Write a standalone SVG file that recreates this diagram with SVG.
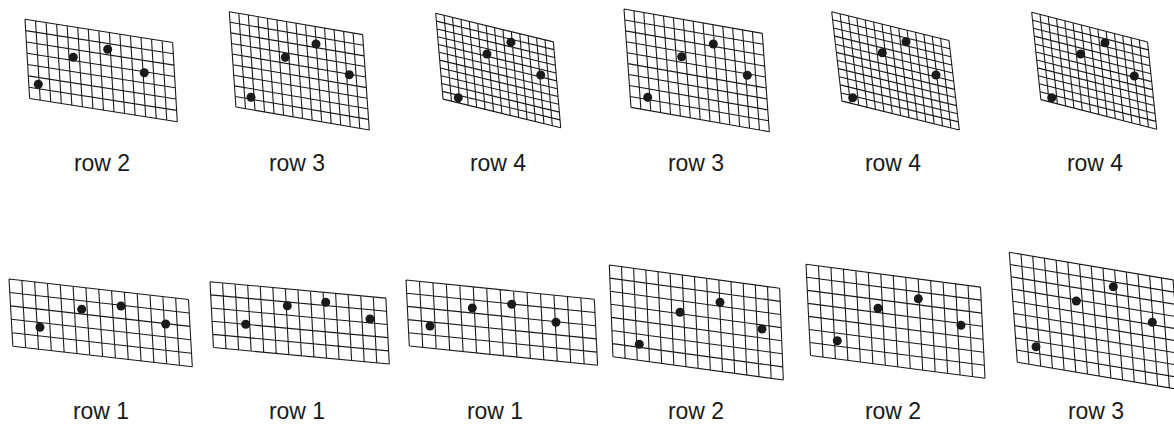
<svg xmlns="http://www.w3.org/2000/svg" xmlns:xlink="http://www.w3.org/1999/xlink" width="1174" height="440" viewBox="0 0 1174 440">
<style>
.grid{fill:none;stroke:#1a1a1a;stroke-width:1.1;vector-effect:non-scaling-stroke}
.dot{fill:#1a1a1a}
.lbl{font-family:"Liberation Sans",Arial,Helvetica,sans-serif;font-size:23px;fill:#1a1a1a;text-anchor:middle}
</style>
<defs>
<path id="g5" class="grid" d="M0 0V5M1 0V5M2 0V5M3 0V5M4 0V5M5 0V5M6 0V5M7 0V5M8 0V5M9 0V5M10 0V5M11 0V5M12 0V5M13 0V5M14 0V5M0 0H14M0 1H14M0 2H14M0 3H14M0 4H14M0 5H14"/>
<path id="g7" class="grid" d="M0 0V7M1 0V7M2 0V7M3 0V7M4 0V7M5 0V7M6 0V7M7 0V7M8 0V7M9 0V7M10 0V7M11 0V7M12 0V7M13 0V7M14 0V7M0 0H14M0 1H14M0 2H14M0 3H14M0 4H14M0 5H14M0 6H14M0 7H14"/>
<path id="g9" class="grid" d="M0 0V9M1 0V9M2 0V9M3 0V9M4 0V9M5 0V9M6 0V9M7 0V9M8 0V9M9 0V9M10 0V9M11 0V9M12 0V9M13 0V9M14 0V9M0 0H14M0 1H14M0 2H14M0 3H14M0 4H14M0 5H14M0 6H14M0 7H14M0 8H14M0 9H14"/>
<path id="g11" class="grid" d="M0 0V11M1 0V11M2 0V11M3 0V11M4 0V11M5 0V11M6 0V11M7 0V11M8 0V11M9 0V11M10 0V11M11 0V11M12 0V11M13 0V11M14 0V11M0 0H14M0 1H14M0 2H14M0 3H14M0 4H14M0 5H14M0 6H14M0 7H14M0 8H14M0 9H14M0 10H14M0 11H14"/>
</defs>
<rect width="1174" height="440" fill="#fff"/>

<g id="top1">
<use href="#g7" xlink:href="#g7" transform="matrix(10.546 1.657 0.664 11.314 25 19.3)"/>
<circle class="dot" cx="38.3" cy="84.3" r="4.5"/><circle class="dot" cx="73.3" cy="57.3" r="4.5"/><circle class="dot" cx="107.7" cy="49.3" r="4.5"/><circle class="dot" cx="144.3" cy="72.7" r="4.5"/>
<text class="lbl" x="102" y="171">row 2</text>
</g>
<g id="top2">
<use href="#g9" xlink:href="#g9" transform="matrix(9.525 1.639 0.739 10.594 229.3 11.7)"/>
<circle class="dot" cx="251" cy="97.3" r="4.5"/><circle class="dot" cx="285.3" cy="57.3" r="4.5"/><circle class="dot" cx="316" cy="44" r="4.5"/><circle class="dot" cx="349.3" cy="74.7" r="4.5"/>
<text class="lbl" x="297" y="171">row 3</text>
</g>
<g id="top3">
<use href="#g11" xlink:href="#g11" transform="matrix(8.404 2.039 0.668 7.805 435.7 13.3)"/>
<circle class="dot" cx="458.3" cy="97.7" r="4.5"/><circle class="dot" cx="487" cy="54" r="4.5"/><circle class="dot" cx="511" cy="42.3" r="4.5"/><circle class="dot" cx="540.7" cy="75" r="4.5"/>
<text class="lbl" x="498" y="171">row 4</text>
</g>
<g id="top4">
<use href="#g9" xlink:href="#g9" transform="matrix(9.879 1.739 0.778 10.928 624 9)"/>
<circle class="dot" cx="647.7" cy="97.3" r="4.5"/><circle class="dot" cx="681.7" cy="56.7" r="4.5"/><circle class="dot" cx="713.3" cy="44" r="4.5"/><circle class="dot" cx="747.3" cy="75.3" r="4.5"/>
<text class="lbl" x="696" y="171">row 3</text>
</g>
<g id="top5">
<use href="#g11" xlink:href="#g11" transform="matrix(8.379 2.061 0.936 8.132 831.7 11.7)"/>
<circle class="dot" cx="852.7" cy="97.7" r="4.5"/><circle class="dot" cx="882.3" cy="52.7" r="4.5"/><circle class="dot" cx="906" cy="41.7" r="4.5"/><circle class="dot" cx="936" cy="75" r="4.5"/>
<text class="lbl" x="893" y="171">row 4</text>
</g>
<g id="top6">
<use href="#g11" xlink:href="#g11" transform="matrix(8.275 2.118 0.832 7.941 1031.7 12.3)"/>
<circle class="dot" cx="1051.7" cy="97.7" r="4.5"/><circle class="dot" cx="1080.7" cy="54" r="4.5"/><circle class="dot" cx="1105" cy="42.7" r="4.5"/><circle class="dot" cx="1134.3" cy="76" r="4.5"/>
<text class="lbl" x="1095" y="171">row 4</text>
</g>

<g id="bot1">
<use href="#g5" xlink:href="#g5" transform="matrix(12.818 1.464 0.77 13.44 9 279)"/>
<circle class="dot" cx="40" cy="327.3" r="4.5"/><circle class="dot" cx="81.7" cy="309.3" r="4.5"/><circle class="dot" cx="121" cy="306" r="4.5"/><circle class="dot" cx="165.7" cy="324" r="4.5"/>
<text class="lbl" x="101" y="419">row 1</text>
</g>
<g id="bot2">
<use href="#g5" xlink:href="#g5" transform="matrix(12.561 1.175 0.69 13.17 210 281.7)"/>
<circle class="dot" cx="245.7" cy="324.3" r="4.5"/><circle class="dot" cx="287.3" cy="305.7" r="4.5"/><circle class="dot" cx="325.7" cy="302.3" r="4.5"/><circle class="dot" cx="370" cy="319" r="4.5"/>
<text class="lbl" x="297" y="419">row 1</text>
</g>
<g id="bot3">
<use href="#g5" xlink:href="#g5" transform="matrix(13.45 1.379 0.66 13.2 406 280)"/>
<circle class="dot" cx="430" cy="326" r="4.5"/><circle class="dot" cx="472.3" cy="308" r="4.5"/><circle class="dot" cx="511.7" cy="304.3" r="4.5"/><circle class="dot" cx="556" cy="322.3" r="4.5"/>
<text class="lbl" x="495" y="419">row 1</text>
</g>
<g id="bot4">
<use href="#g7" xlink:href="#g7" transform="matrix(12.168 1.664 0.521 13.1 609.3 265)"/>
<circle class="dot" cx="639.3" cy="344.3" r="4.5"/><circle class="dot" cx="680" cy="312.3" r="4.5"/><circle class="dot" cx="720" cy="302.3" r="4.5"/><circle class="dot" cx="762" cy="329" r="4.5"/>
<text class="lbl" x="696" y="419">row 2</text>
</g>
<g id="bot5">
<use href="#g7" xlink:href="#g7" transform="matrix(12.464 1.629 0.643 13.029 806 264.3)"/>
<circle class="dot" cx="837.3" cy="340.7" r="4.5"/><circle class="dot" cx="878" cy="308.3" r="4.5"/><circle class="dot" cx="918.3" cy="298.7" r="4.5"/><circle class="dot" cx="961" cy="325.3" r="4.5"/>
<text class="lbl" x="893" y="419">row 2</text>
</g>
<g id="bot6">
<use href="#g9" xlink:href="#g9" transform="matrix(11.7 1.97 0.889 12.222 1009.3 252.3)"/>
<circle class="dot" cx="1036" cy="346.7" r="4.5"/><circle class="dot" cx="1076.3" cy="301" r="4.5"/><circle class="dot" cx="1113.3" cy="286.7" r="4.5"/><circle class="dot" cx="1152.3" cy="322.3" r="4.5"/>
<text class="lbl" x="1096" y="419">row 3</text>
</g>
</svg>
